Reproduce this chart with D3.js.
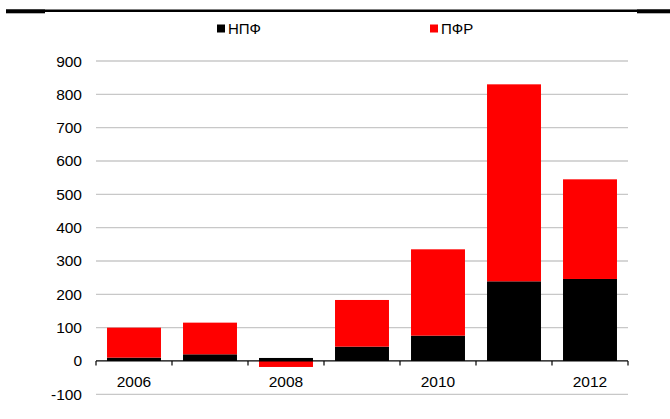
<!DOCTYPE html>
<html><head><meta charset="utf-8">
<script src="https://cdn.jsdelivr.net/npm/d3@7"></script>
<style>
html,body{margin:0;padding:0;background:#fff;}
svg{display:block;font-family:"Liberation Sans",Arial,sans-serif;}
</style></head>
<body>
<svg id="c" width="670" height="419"></svg>
<script>
const years = ["2006","2007","2008","2009","2010","2011","2012"];
const npf = [10, 20, 9, 43, 76, 239, 246];
const pfr = [90, 95, -18, 140, 259, 591, 299];
const seriesNames = ["НПФ","ПФР"];
const seriesColors = ["#000000","#ff0000"];
const yTicks = [-100,0,100,200,300,400,500,600,700,800,900];
const xLabelYears = ["2006","2008","2010","2012"];

(function(){
const svg = d3.select("#c");
const pLeft = 96, pRight = 628, pTop = 61, pBottom = 394.3;

// top rule
svg.append("rect").attr("x",6).attr("y",9.5).attr("width",664).attr("height",2.5).attr("fill","#000");
svg.append("rect").attr("x",6).attr("y",9.5).attr("width",39).attr("height",3.8).attr("fill","#000");
svg.append("rect").attr("x",637).attr("y",9.5).attr("width",33).attr("height",3.8).attr("fill","#000");

const x = d3.scaleBand().domain(years).range([pLeft,pRight]).padding(0);
const y = d3.scaleLinear().domain([-100,900]).range([pBottom,pTop]);

// gridlines
svg.append("g").selectAll("line").data(yTicks.filter(d=>d!==0)).join("line")
  .attr("x1",pLeft).attr("x2",pRight)
  .attr("y1",d=>y(d)).attr("y2",d=>y(d))
  .attr("stroke","#c8c8c8").attr("stroke-width",1.3);

// y labels
svg.append("g").selectAll("text").data(yTicks).join("text")
  .attr("x",82).attr("y",d=>y(d)+5.5)
  .attr("text-anchor","end").attr("font-size",15.5).attr("fill","#000")
  .text(d=>d);

// stacked bars
const table = years.map((yr,i)=>({year:yr, "НПФ":npf[i], "ПФР":pfr[i]}));
const stack = d3.stack().keys(seriesNames).offset(d3.stackOffsetDiverging)(table);
const bw = x.bandwidth()*0.71;
svg.append("g").selectAll("g").data(stack).join("g")
  .attr("fill",(d,i)=>seriesColors[i])
  .selectAll("rect").data(d=>d).join("rect")
  .attr("x",d=>x(d.data.year)+(x.bandwidth()-bw)/2)
  .attr("width",bw)
  .attr("y",d=>y(Math.max(d[0],d[1])))
  .attr("height",d=>Math.abs(y(d[0])-y(d[1])));

// x axis
const axisG = svg.append("g").attr("transform",`translate(0,${y(0)})`);
axisG.append("line").attr("x1",pLeft).attr("x2",pRight).attr("y1",0).attr("y2",0)
  .attr("stroke","#000").attr("stroke-width",1.3);
const bounds = years.map(d=>x(d)).concat([pRight]);
axisG.selectAll("line.t").data(bounds).join("line").attr("class","t")
  .attr("x1",d=>d).attr("x2",d=>d).attr("y1",0).attr("y2",4.5)
  .attr("stroke","#000").attr("stroke-width",1.2);
svg.append("g").selectAll("text").data(xLabelYears).join("text")
  .attr("x",d=>x(d)+x.bandwidth()/2).attr("y",386.5)
  .attr("text-anchor","middle").attr("font-size",15.5).attr("fill","#000")
  .text(d=>d);

// legend
const legX = [217, 430];
const lg = svg.append("g").selectAll("g").data(seriesNames).join("g")
  .attr("transform",(d,i)=>`translate(${legX[i]},0)`);
lg.append("rect").attr("x",0).attr("y",24.5).attr("width",8).attr("height",8)
  .attr("fill",(d,i)=>seriesColors[i]);
lg.append("text").attr("x",11).attr("y",33.5).attr("font-size",15).attr("fill","#000").text(d=>d);
})();
</script>
</body></html>
